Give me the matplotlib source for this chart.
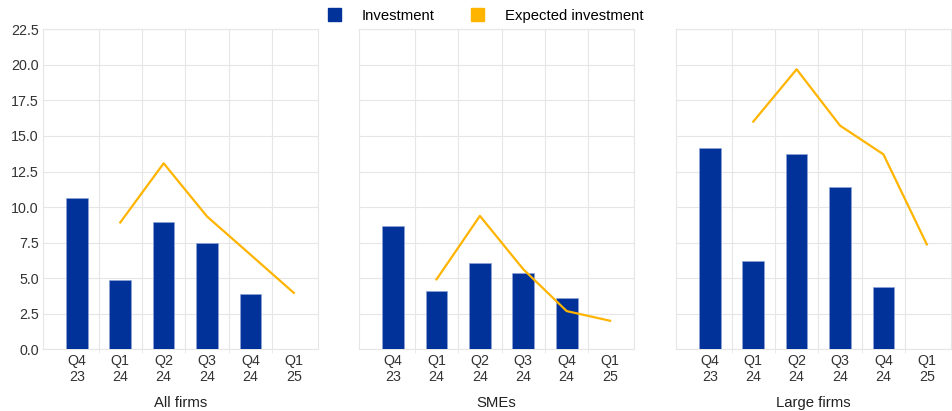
import numpy as np
import matplotlib.pyplot as plt
from matplotlib.patches import Patch

plt.rcParams['font.family'] = ['Liberation Sans', 'DejaVu Sans']

quarters = ['Q4\n23', 'Q1\n24', 'Q2\n24', 'Q3\n24', 'Q4\n24', 'Q1\n25']
panels = ['All firms', 'SMEs', 'Large firms']

# realised investment (bars), last quarter not yet available
invest_all = [10.63, 4.90, 8.92, 7.48, 3.92, np.nan]
invest_sme = [8.67, 4.12, 6.09, 5.34, 3.63, np.nan]
invest_large = [14.13, 6.21, 13.71, 11.39, 4.36, np.nan]

# expected investment (line), starts one quarter later
expected_all = [np.nan, 8.92, 13.08, 9.34, 6.66, 3.97]
expected_sme = [np.nan, 4.92, 9.38, 5.63, 2.69, 2.01]
expected_large = [np.nan, 16.01, 19.69, 15.73, 13.71, 7.38]

invest = [invest_all, invest_sme, invest_large]
expected = [expected_all, expected_sme, expected_large]

blue = '#003299'
yellow = '#ffb400'
grid_col = '#e6e6e6'

fig = plt.figure(figsize=(9.52, 4.11), dpi=100)
lefts = [0.0452, 0.3774, 0.7101]
x = np.arange(len(quarters))

for i, name in enumerate(panels):
    ax = fig.add_axes([lefts[i], 0.150, 0.2885, 0.7787])
    ax.bar(x, invest[i], width=0.5, color=blue, edgecolor='#8fa3d6', linewidth=0.5, zorder=3)
    ax.plot(x, expected[i], color=yellow, lw=1.6, zorder=4)
    ax.set_xlim(-0.78, 5.55)
    ax.set_ylim(0, 22.5)
    ax.set_yticks(np.arange(0, 22.6, 2.5))
    ax.set_xticks(x)
    ax.set_xticklabels(quarters, fontsize=10.3, linespacing=1.2, color='#333333')
    ax.set_xticks(np.arange(0.5, 5, 1), minor=True)
    ax.tick_params(axis='x', which='major', length=0, pad=3)
    ax.tick_params(axis='x', which='minor', length=3, color=grid_col)
    ax.tick_params(axis='y', length=0, labelsize=10.3, labelcolor='#333333', pad=3)
    if i > 0:
        ax.set_yticklabels([])
    else:
        ax.set_yticklabels(['%.1f' % v for v in np.arange(0, 22.6, 2.5)])
    ax.grid(axis='y', color=grid_col, lw=0.8, zorder=0)
    ax.grid(axis='x', which='minor', color=grid_col, lw=0.8, zorder=0)
    for s in ax.spines.values():
        s.set_color(grid_col)
        s.set_linewidth(0.8)
    ax.set_xlabel(name, fontsize=10.7, labelpad=9, color='#222222')

handles = [Patch(color=blue), Patch(color=yellow)]
fig.legend(handles, ['Investment', 'Expected investment'], loc='center',
           bbox_to_anchor=(0.51, 0.962), ncol=2, frameon=False, fontsize=10.7,
           handlelength=0.9, handleheight=0.9, handletextpad=1.4, columnspacing=2.4)

fig.savefig('out.png', dpi=100)
